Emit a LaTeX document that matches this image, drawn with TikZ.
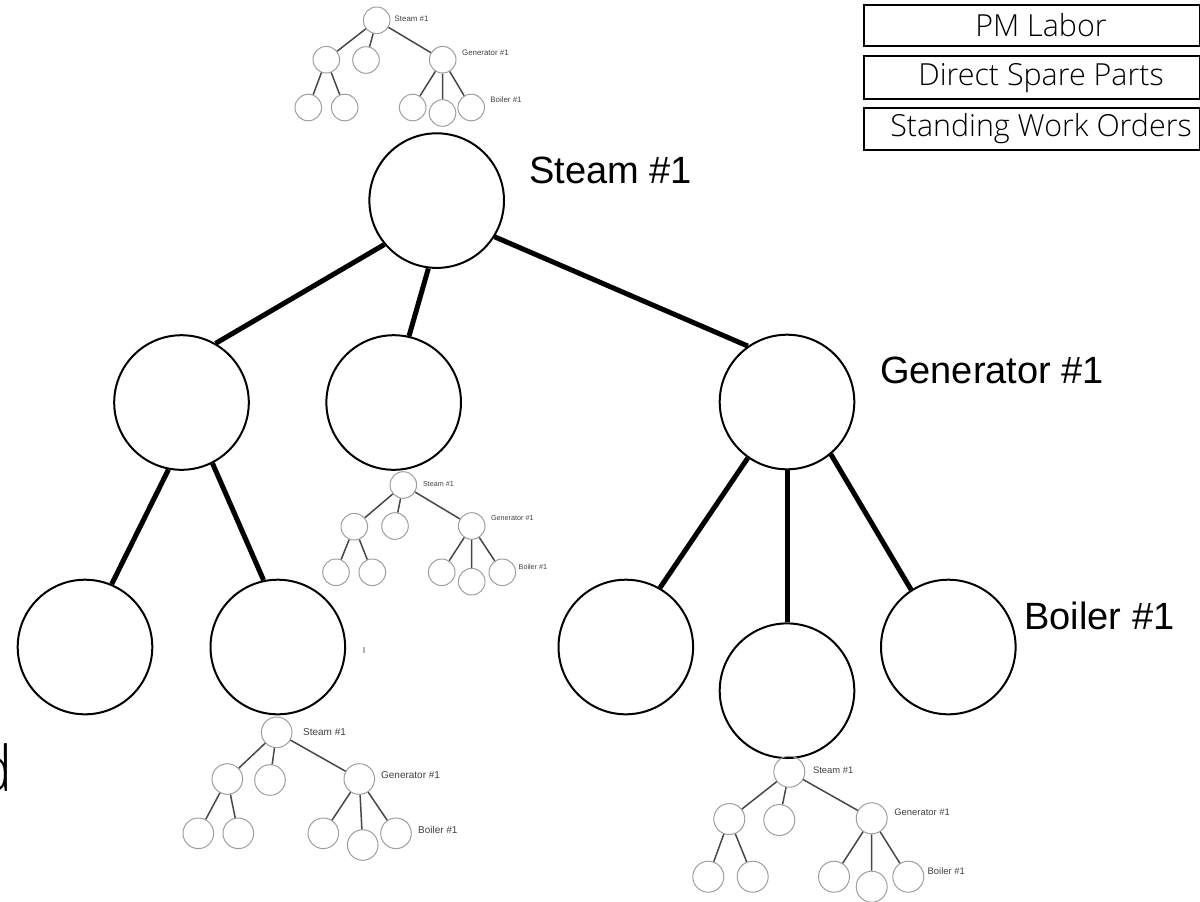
\documentclass[tikz,border=0pt]{standalone}
\usepackage{fontspec}
\setmainfont{Liberation Sans}
\IfFontExistsTF{Open Sans Light}{\newfontfamily\lightfont{Open Sans Light}}{%
  \IfFontExistsTF{Lato Light}{\newfontfamily\lightfont{Lato Light}}{\newfontfamily\lightfont{Open Sans}}}
\begin{document}
\begin{tikzpicture}[x=0.5pt,y=-0.5pt,
  bigc/.style={circle, draw, line width=1pt, minimum size=67.3pt, inner sep=0pt},
  bige/.style={line width=2.5pt},
  biglab/.style={font=\fontsize{19}{19}\selectfont, anchor=base west, inner sep=0pt},
  smc/.style={circle, draw=black!38, line width=0.5pt, inner sep=0pt},
  sme/.style={draw=black!72, line width=0.75pt},
  sml/.style={anchor=west, inner sep=0pt, text=black!75},
  boxn/.style={draw, line width=1pt, inner sep=0pt, anchor=north west},
  boxt/.style={font=\lightfont\fontsize{15.2}{15.2}\selectfont, anchor=base, inner sep=0pt}]
\useasboundingbox (0,0) rectangle (1200,901);
\clip (0,0) rectangle (1200,901);

% ---------- big tree ----------
\node[bigc] (S)  at (436.7,200.6) {};
\node[bigc] (L)  at (181.5,402.5) {};
\node[bigc] (M)  at (393.7,402.5) {};
\node[bigc] (G)  at (787,402) {};
\node[bigc] (LL) at (85,647) {};
\node[bigc] (LR) at (277.8,647) {};
\node[bigc] (GL) at (625.8,647) {};
\node[bigc] (GM) at (787,690.7) {};
\node[bigc] (GR) at (948.3,647) {};
\draw[bige] (S.220) -- (L.60.9);
\draw[bige] (S.263.2) -- (M.77.5);
\draw[bige] (S.-32.9) -- (G.125.5);
\draw[bige] (L.259.6) -- (LL.67.3);
\draw[bige] (L.297.6) -- (LR.102.3);
\draw[bige] (G.235) -- (GL.60.4);
\draw[bige] (G.270) -- (GM.90);
\draw[bige] (G.310.8) -- (GR.123.9);
\node[biglab] (Slab) at (529,183.6) {Steam \#1};
\node[biglab] (Glab) at (879.7,383.6) {Generator \#1};
\node[biglab] (Blab) at (1024,629.6) {Boiler \#1};

% ---------- boxes ----------
\node[boxn, minimum width=168pt, minimum height=20.5pt] (b1) at (863.3,4) {};
\node[boxn, minimum width=168pt, minimum height=21.5pt] (b2) at (863.3,55) {};
\node[boxn, minimum width=168pt, minimum height=21pt] (b3) at (863.3,107) {};
\node[boxt] (t1) at (1041,36.7) {PM Labor};
\node[boxt] (t2) at (1041,85) {Direct Spare Parts};
\node[boxt] (t3) at (1041,136.5) {Standing Work Orders};

% ---------- cut letter ----------
\node[font=\lightfont\fontsize{31.5}{31.5}\selectfont, anchor=base east, inner sep=0pt] (dd) at (13,791.7) {d};
\draw[black!30, line width=0.8pt] (364,647) -- (364,653);

% ---------- small tree 1 (top) ----------
\begin{scope}[smc/.append style={minimum size=13.3pt}, sml/.append style={font=\fontsize{3.95}{4}\selectfont}]
\node[smc] (a0) at (376.7,20.3) {};
\node[smc] (a1) at (326.3,59.7) {};
\node[smc] (a2) at (366,60) {};
\node[smc] (a3) at (442.7,59.7) {};
\node[smc] (a4) at (308.3,107.5) {};
\node[smc] (a5) at (344.7,107.5) {};
\node[smc] (a6) at (412.7,107.5) {};
\node[smc] (a7) at (442.5,113) {};
\node[smc] (a8) at (471.2,107.5) {};
\draw[sme] (a0)--(a1) (a0)--(a2) (a0)--(a3) (a1)--(a4) (a1)--(a5) (a3)--(a6) (a3)--(a7) (a3)--(a8);
\node[sml] (aS) at (394.3,19) {Steam \#1};
\node[sml] (aG) at (461.7,52.7) {Generator \#1};
\node[sml] (aB) at (490,100) {Boiler \#1};
\end{scope}

% ---------- small tree 2 (middle) ----------
\begin{scope}[smc/.append style={minimum size=13.3pt}, sml/.append style={font=\fontsize{3.6}{4}\selectfont}]
\node[smc] (b0) at (403.3,485) {};
\node[smc] (b1n) at (354.3,526.7) {};
\node[smc] (b2n) at (395,526) {};
\node[smc] (b3n) at (471.7,526) {};
\node[smc] (b4) at (336,572.3) {};
\node[smc] (b5) at (372.3,572.3) {};
\node[smc] (b6) at (441.7,572.3) {};
\node[smc] (b7) at (471.7,581.7) {};
\node[smc] (b8) at (502.3,572.3) {};
\draw[sme] (b0)--(b1n) (b0)--(b2n) (b0)--(b3n) (b1n)--(b4) (b1n)--(b5) (b3n)--(b6) (b3n)--(b7) (b3n)--(b8);
\node[sml] (bS) at (422.7,484) {Steam \#1};
\node[sml] (bG) at (490.7,518.3) {Generator \#1};
\node[sml] (bB) at (518.3,566.7) {Boiler \#1};
\end{scope}

% ---------- small tree 3 (bottom left) ----------
\begin{scope}[smc/.append style={minimum size=15.3pt}, sml/.append style={font=\fontsize{5}{5}\selectfont}]
\node[smc] (c0) at (276.7,732.3) {};
\node[smc] (c1) at (227.3,779) {};
\node[smc] (c2) at (270,780) {};
\node[smc] (c3) at (359.3,779) {};
\node[smc] (c4) at (198.3,833.3) {};
\node[smc] (c5) at (238.3,833.3) {};
\node[smc] (c6) at (323.3,833.3) {};
\node[smc] (c7) at (362.7,845) {};
\node[smc] (c8) at (396,833.3) {};
\draw[sme] (c0)--(c1) (c0)--(c2) (c0)--(c3) (c1)--(c4) (c1)--(c5) (c3)--(c6) (c3)--(c7) (c3)--(c8);
\node[sml] (cS) at (302.7,731.7) {Steam \#1};
\node[sml] (cG) at (380.7,775) {Generator \#1};
\node[sml] (cB) at (417.7,830) {Boiler \#1};
\end{scope}

% ---------- small tree 4 (bottom right) ----------
\begin{scope}[smc/.append style={minimum size=15.5pt}, sml/.append style={font=\fontsize{4.7}{5}\selectfont}]
\node[smc] (d0) at (789.3,771.7) {};
\node[smc] (d1) at (729.3,819) {};
\node[smc] (d2) at (779.3,820) {};
\node[smc] (d3) at (871.7,818.3) {};
\node[smc] (d4) at (708.3,876.7) {};
\node[smc] (d5) at (752.7,876.7) {};
\node[smc] (d6) at (834,876.7) {};
\node[smc] (d7) at (871.7,886.7) {};
\node[smc] (d8) at (908.3,876.7) {};
\draw[sme] (d0)--(d1) (d0)--(d2) (d0)--(d3) (d1)--(d4) (d1)--(d5) (d3)--(d6) (d3)--(d7) (d3)--(d8);
\node[sml] (dS) at (812.7,770.7) {Steam \#1};
\node[sml] (dG) at (894,812.3) {Generator \#1};
\node[sml] (dB) at (927.3,871) {Boiler \#1};
\end{scope}
\end{tikzpicture}
\end{document}
